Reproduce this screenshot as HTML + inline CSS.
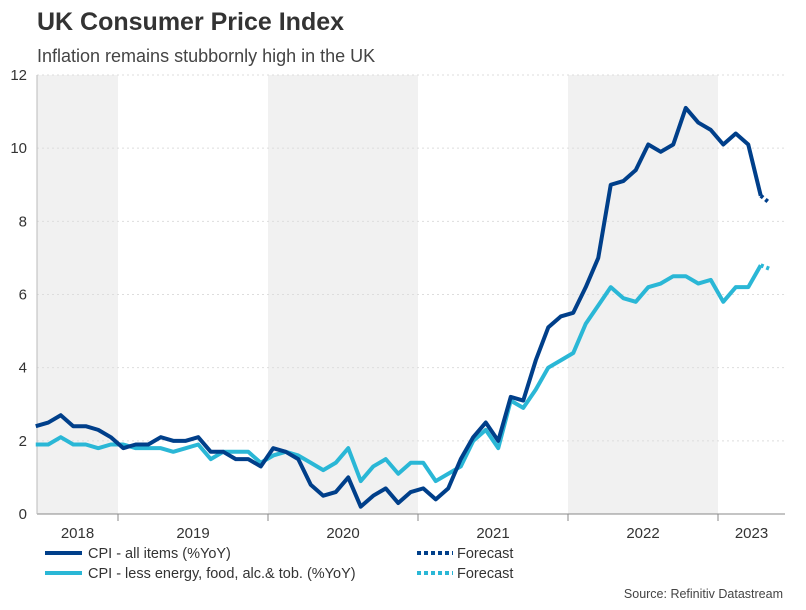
<!DOCTYPE html>
<html><head><meta charset="utf-8"><style>
body{margin:0;background:#fff;font-family:"Liberation Sans",sans-serif}
svg text{font-family:"Liberation Sans",sans-serif}
</style></head><body>
<svg id="c" width="806" height="605">
<text x="37" y="30" font-size="25" font-weight="bold" fill="#333">UK Consumer Price Index</text>
<text x="37" y="62" font-size="18" fill="#444">Inflation remains stubbornly high in the UK</text>
<g id="bands"></g><g id="grid"></g><g id="axes"></g><g id="lines"></g>
<g>
<line x1="45" y1="553" x2="82" y2="553" stroke="#003f8a" stroke-width="4"/>
<text x="88" y="558" font-size="14.5" fill="#333">CPI - all items (%YoY)</text>
<line x1="45" y1="573" x2="82" y2="573" stroke="#2ab7d6" stroke-width="4"/>
<text x="88" y="578" font-size="14.5" fill="#333">CPI - less energy, food, alc.&amp; tob. (%YoY)</text>
<line x1="417" y1="553" x2="453" y2="553" stroke="#003f8a" stroke-width="4" stroke-dasharray="4,3"/>
<text x="457" y="558" font-size="14.5" fill="#333">Forecast</text>
<line x1="417" y1="573" x2="453" y2="573" stroke="#2ab7d6" stroke-width="4" stroke-dasharray="4,3"/>
<text x="457" y="578" font-size="14.5" fill="#333">Forecast</text>
</g>
<text x="783" y="598" font-size="12.5" fill="#444" text-anchor="end">Source: Refinitiv Datastream</text>
</svg>
<script>
const years=[2018,2019,2020,2021,2022,2023];
const yTicks=[0,2,4,6,8,10,12];
const startMonth=5; // June 2018 (months since Jan 2018)
const cpi=[2.4,2.5,2.7,2.4,2.4,2.3,2.1,
1.8,1.9,1.9,2.1,2.0,2.0,2.1,1.7,1.7,1.5,1.5,1.3,
1.8,1.7,1.5,0.8,0.5,0.6,1.0,0.2,0.5,0.7,0.3,0.6,
0.7,0.4,0.7,1.5,2.1,2.5,2.0,3.2,3.1,4.2,5.1,5.4,
5.5,6.2,7.0,9.0,9.1,9.4,10.1,9.9,10.1,11.1,10.7,10.5,
10.1,10.4,10.1,8.7];
const core=[1.9,1.9,2.1,1.9,1.9,1.8,1.9,
1.9,1.8,1.8,1.8,1.7,1.8,1.9,1.5,1.7,1.7,1.7,1.4,
1.6,1.7,1.6,1.4,1.2,1.4,1.8,0.9,1.3,1.5,1.1,1.4,
1.4,0.9,1.1,1.3,2.0,2.3,1.8,3.1,2.9,3.4,4.0,4.2,
4.4,5.2,5.7,6.2,5.9,5.8,6.2,6.3,6.5,6.5,6.3,6.4,
5.8,6.2,6.2,6.8];
const cpiForecast=[8.5];
const coreForecast=[6.7];
const NS='http://www.w3.org/2000/svg';
const L=37,R=785,T=75,B=514;
const xM=m=>-33+12.5*(m+0.5);
const xB=m=>-32+12.5*m;
const y=v=>B-(v/12)*(B-T);
function el(p,t,a){const e=document.createElementNS(NS,t);for(const k in a)e.setAttribute(k,a[k]);document.getElementById(p).appendChild(e);return e;}
years.forEach((yr,i)=>{
 const x0=Math.max(L,xB(i*12)),x1=Math.min(R,xB(i*12+12));
 if(i%2===0){const r=el('bands','rect',{x:x0,y:T,width:x1-x0,height:B-T,fill:'#f1f1f1'});
 
 }
 if(i>0){const t=el('axes','line',{x1:xB(i*12),x2:xB(i*12),y1:B,y2:B+7,stroke:'#888'});
 
 }
 const lb=el('axes','text',{x:(x0+x1)/2,y:538,'font-size':15,fill:'#333','text-anchor':'middle'});lb.textContent=yr;
 
 
});
yTicks.forEach(v=>{
 if(v>0){const g=el('grid','line',{x1:L,x2:R,y1:y(v),y2:y(v),stroke:'#ddd','stroke-dasharray':'2,3'});
 
 }
 const t=el('axes','text',{x:27,y:y(v)+5,'font-size':15,fill:'#333','text-anchor':'end'});t.textContent=v;
 
 
});
const ax=el('axes','line',{x1:L,x2:R,y1:B,y2:B,stroke:'#888'});


const ay=el('axes','line',{x1:L,x2:L,y1:T,y2:B,stroke:'#bbb'});


function series(data,fc,color,name){
 const pts=data.map((v,i)=>xM(startMonth+i)+','+y(v)).join(' ');
 const p=el('lines','polyline',{points:pts,fill:'none',stroke:color,'stroke-width':4,'stroke-linejoin':'round'});
 
 
 const n=data.length-1;
 const fp=[xM(startMonth+n)+','+y(data[n])].concat(fc.map((v,i)=>(xM(startMonth+n)+9*(i+1))+','+y(v))).join(' ');
 const f=el('lines','polyline',{points:fp,fill:'none',stroke:color,'stroke-width':4,'stroke-dasharray':'3,3'});
 
 
}
series(core,coreForecast,'#2ab7d6','core-cpi');
series(cpi,cpiForecast,'#003f8a','cpi');
</script>
</body></html>
